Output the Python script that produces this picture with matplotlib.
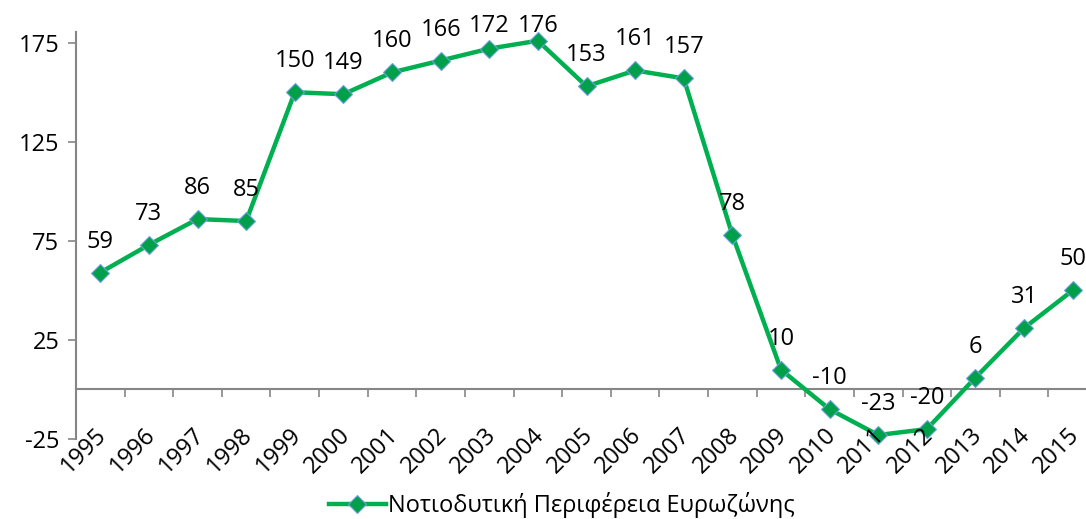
import matplotlib
matplotlib.use("Agg")
import matplotlib.pyplot as plt
from matplotlib.lines import Line2D
import matplotlib.transforms as mtransforms

years = ["1995", "1996", "1997", "1998", "1999", "2000", "2001", "2002", "2003", "2004",
         "2005", "2006", "2007", "2008", "2009", "2010", "2011", "2012", "2013", "2014", "2015"]
values = [59, 73, 86, 85, 150, 149, 160, 166, 172, 176,
          153, 161, 157, 78, 10, -10, -23, -20, 6, 31, 50]
yticks = [-25, 25, 75, 125, 175]
series_name = "Νοτιοδυτική Περιφέρεια Ευρωζώνης"

plt.rcParams['font.family'] = ['Open Sans', 'DejaVu Sans']
FS = 17
green = "#00B050"
axis_gray = "#868686"

fig = plt.figure(figsize=(10.86, 5.19), dpi=100)
ax_h_px = 407
ymin, ymax = -25, 180.4
ax = fig.add_axes([76/1086, 1-439/519, 1021/1086, ax_h_px/519])

x = list(range(len(years)))
ax.plot(x, values, color=green, lw=3.2, marker='D', markersize=9,
        markerfacecolor="#00A04A", markeredgecolor="#6FA0DC", markeredgewidth=0.8,
        solid_joinstyle='round', zorder=3, clip_on=False)

ax.set_xlim(-0.5, len(years) - 0.5)
ax.set_ylim(ymin, ymax)
ax.set_yticks(yticks)
ax.set_yticklabels([str(v) for v in yticks], fontsize=FS)

ax.spines['top'].set_visible(False)
ax.spines['right'].set_visible(False)
ax.spines['left'].set_color(axis_gray)
ax.spines['left'].set_linewidth(1.5)
ax.spines['bottom'].set_color(axis_gray)
ax.spines['bottom'].set_linewidth(1.5)
ax.spines['bottom'].set_position(('data', 0))

ax.set_xticks([i - 0.5 for i in range(len(years) + 1)])
ax.set_xticklabels([])
ax.tick_params(axis='x', direction='out', length=6, width=1.2, color=axis_gray)
ax.tick_params(axis='y', direction='out', length=6, width=1.2, color=axis_gray, pad=6)

# category labels, rotated
for i, yr in enumerate(years):
    off = mtransforms.offset_copy(ax.transData, fig=fig, x=3, y=-42, units='dots')
    ax.text(i, 0, yr, transform=off, rotation=45, rotation_mode='anchor',
            ha='right', va='center', fontsize=FS, clip_on=False)

# data labels (kept inside the top of the chart like the original)
gap = 25 * (ymax - ymin) / ax_h_px
for i, v in enumerate(values):
    ax.text(i, min(v + gap, ymax), str(v), ha='center', va='baseline',
            fontsize=FS, clip_on=False)

handle = Line2D([0], [0], color=green, lw=3.2, marker='D', markersize=9,
                markerfacecolor="#00A04A", markeredgecolor="#6FA0DC", markeredgewidth=0.8)
fig.legend([handle], [series_name], loc='center', bbox_to_anchor=(562/1086, 1-505/519),
           frameon=False, fontsize=FS, handlelength=2.4, handletextpad=0.1)

fig.savefig("out.png", dpi=100)
